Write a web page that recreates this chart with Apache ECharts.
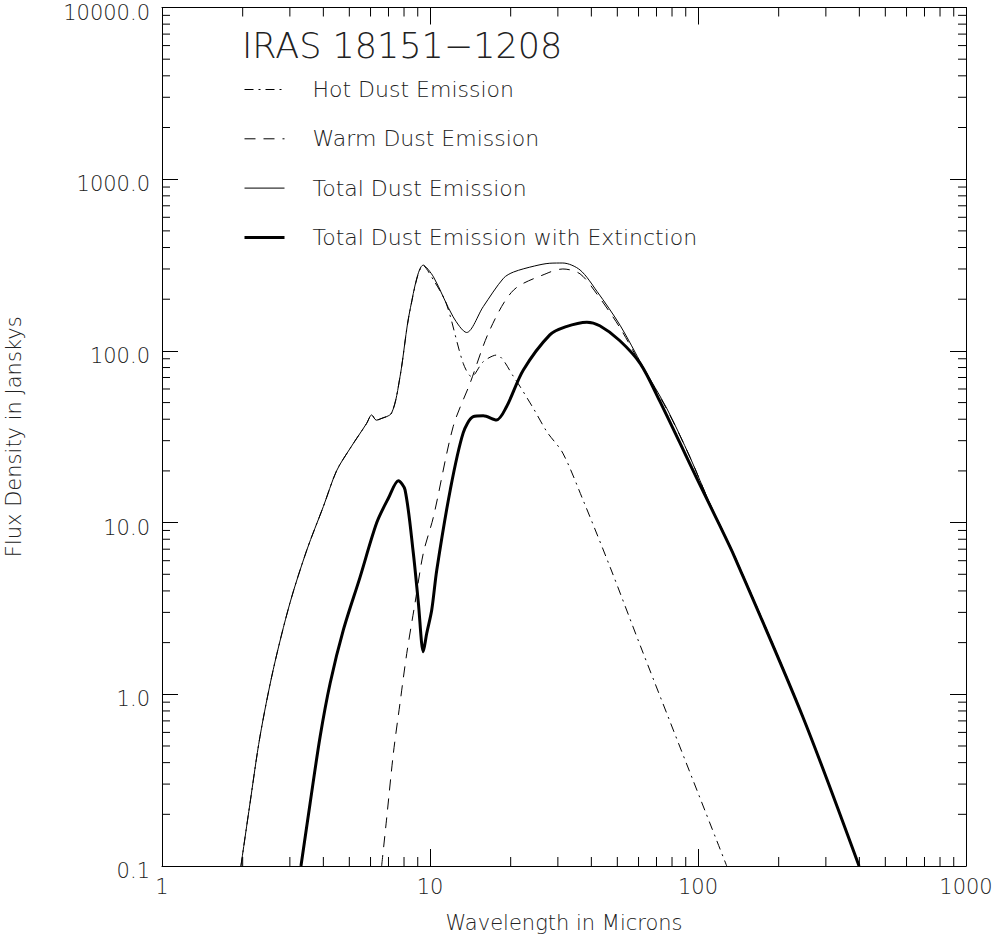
<!DOCTYPE html>
<html>
<head>
<meta charset="utf-8">
<script src="https://cdn.jsdelivr.net/npm/echarts@6/dist/echarts.min.js"></script>
<style>
  html, body { margin: 0; padding: 0; background: #fff; }
  #chart { width: 1003px; height: 944px; }
</style>
</head>
<body>
<div id="chart"></div>
<script>
// ---- Data (wavelength in microns, flux density in Jy) ----
const hotWave  = [1.97, 2.13, 2.32, 2.60, 3.0, 3.47, 4.0, 4.48, 5.03, 5.8, 6.06, 6.3, 6.51, 7.19, 7.73, 8.42, 9.44, 10.3, 11.5, 13.3, 14.3, 15.8, 17.7, 20.5, 24.3, 27.3, 31.3, 37.2, 47, 61.8, 128];
const hotFlux  = [0.1, 0.232, 0.566, 1.39, 3.39, 6.92, 12.4, 20.0, 27, 37.8, 42.4, 39.5, 40.1, 43.5, 70.8, 172, 314, 259, 189, 84.7, 70.8, 86.5, 94.6, 70.8, 46.3, 33.8, 25.4, 13.6, 5.5, 1.81, 0.1];

const warmWave = [6.6, 6.88, 7.30, 7.73, 8.19, 8.79, 9.44, 10.3, 12.2, 14.1, 16.7, 20.5, 27.3, 31.3, 36.3, 42, 51.2, 62.3, 76.6, 93.4, 111, 137, 246, 400];
const warmFlux = [0.1, 0.185, 0.453, 0.89, 1.73, 3.39, 6.63, 10.8, 36.2, 64.7, 132, 226, 283, 300, 281, 214, 136, 79, 45.5, 24, 12.8, 6.4, 0.75, 0.1];

const totalWave = [1.97, 2.13, 2.32, 2.60, 3.0, 3.47, 4.0, 4.48, 5.03, 5.8, 6.06, 6.3, 6.51, 7.19, 7.73, 8.42, 9.44, 10.3, 12.2, 13.7, 15.8, 18.8, 20.5, 24.5, 28, 31.3, 36.3, 42, 51.2, 62.3, 76.6, 93.4, 111, 137, 246, 400];
const totalFlux = [0.1, 0.232, 0.566, 1.39, 3.39, 6.92, 12.4, 20.0, 27, 37.8, 42.4, 39.5, 40.1, 43.5, 70.8, 173, 316, 270, 158, 128, 181, 265, 288, 312, 324, 325, 296, 222, 141, 81, 46, 24, 12.8, 6.4, 0.75, 0.1];

const extWave = [3.30, 3.57, 3.89, 4.24, 4.75, 5.48, 6.33, 7.0, 7.62, 8.07, 8.66, 9.05, 9.44, 9.72, 10.15, 10.6, 11.9, 13.3, 14.5, 15.8, 17.7, 19.3, 22.3, 28, 32, 38.5, 43, 51, 61, 72, 85.7, 100, 121, 137, 246, 399];
const extFlux = [0.1, 0.232, 0.566, 1.16, 2.37, 4.8, 10, 13.9, 17.5, 15.5, 6.7, 3.4, 1.77, 2.26, 3.1, 5.3, 15.5, 33.3, 41.4, 41.9, 39.6, 47.3, 77.4, 124, 138, 147, 140, 115, 84, 51, 29, 17.5, 9.5, 6.3, 0.74, 0.1];

// ---- Axis ticks ----
const xMajorLabels = [1, 10, 100, 1000];
const yMajorLabels = [0.1, 1, 10, 100, 1000, 10000];
const xMinorTicks = [2, 3, 4, 5, 6, 7, 8, 9, 20, 30, 40, 50, 60, 70, 80, 90, 200, 300, 400, 500, 600, 700, 800, 900];
const yMinorTicks = [0.2, 0.3, 0.4, 0.5, 0.6, 0.7, 0.8, 0.9, 2, 3, 4, 5, 6, 7, 8, 9, 20, 30, 40, 50, 60, 70, 80, 90,
                     200, 300, 400, 500, 600, 700, 800, 900, 2000, 3000, 4000, 5000, 6000, 7000, 8000, 9000];

const titleText = 'IRAS 18151\u22121208';
const seriesNames = ['Hot Dust Emission', 'Warm Dust Emission', 'Total Dust Emission', 'Total Dust Emission with Extinction'];

const FONT = '"DejaVu Sans", sans-serif';
const TXT = '#222';

function pairs(xs, ys) { return xs.map((x, i) => [x, ys[i]]); }

const X_MIN = xMajorLabels[0], X_MAX = xMajorLabels[xMajorLabels.length - 1];
const Y_MIN = yMajorLabels[0], Y_MAX = yMajorLabels[yMajorLabels.length - 1];

const chart = echarts.init(document.getElementById('chart'), null, { renderer: 'svg' });

function minorTickSeries(values, isX) {
  return {
    type: 'custom',
    silent: true,
    clip: false,
    xAxisIndex: 0, yAxisIndex: 0,
    data: values.map(v => isX ? [v, 1] : [1, v]),
    renderItem: function (params, api) {
      const len = isX ? 9 : 8;
      if (isX) {
        const x = api.coord([api.value(0), Y_MIN])[0];
        const yb = api.coord([X_MIN, Y_MIN])[1];
        const yt = api.coord([X_MIN, Y_MAX])[1];
        return { type: 'group', children: [
          { type: 'line', shape: { x1: x, y1: yb, x2: x, y2: yb - len }, style: { stroke: '#000', lineWidth: 1 } },
          { type: 'line', shape: { x1: x, y1: yt, x2: x, y2: yt + len }, style: { stroke: '#000', lineWidth: 1 } }
        ]};
      } else {
        const y = api.coord([X_MIN, api.value(1)])[1];
        const xl = api.coord([X_MIN, Y_MIN])[0];
        const xr = api.coord([X_MAX, Y_MIN])[0];
        return { type: 'group', children: [
          { type: 'line', shape: { x1: xl, y1: y, x2: xl + len, y2: y }, style: { stroke: '#000', lineWidth: 1 } },
          { type: 'line', shape: { x1: xr, y1: y, x2: xr - len, y2: y }, style: { stroke: '#000', lineWidth: 1 } }
        ]};
      }
    }
  };
}

const lineBase = { type: 'line', showSymbol: false, symbol: 'none', smooth: 0.3, xAxisIndex: 0, yAxisIndex: 0 };

const option = {
  animation: false,
  backgroundColor: '#fff',
  title: {
    text: titleText,
    left: 237, top: 23,
    textStyle: { fontFamily: FONT, fontSize: 35, fontWeight: 200, color: TXT }
  },
  legend: {
    data: seriesNames,
    orient: 'vertical',
    left: 238, top: 73.5,
    itemWidth: 40, itemHeight: 14, itemGap: 27.3,
    itemStyle: { opacity: 0 },
    lineStyle: { width: 'inherit', type: 'inherit', color: '#000' },
    textStyle: { fontFamily: FONT, fontSize: 22, fontWeight: 200, color: TXT, padding: [0, 0, 0, 23] },
    selectedMode: false
  },
  grid: { left: 162, right: 37, top: 7.5, bottom: 78, containLabel: false, outerBoundsMode: 'none' },
  xAxis: [{
    type: 'log', logBase: 10, min: X_MIN, max: X_MAX,
    name: 'Wavelength in Microns', nameLocation: 'middle', nameGap: 46,
    nameTextStyle: { fontFamily: FONT, fontSize: 21, fontWeight: 200, color: TXT },
    axisLine: { show: true, lineStyle: { color: '#000', width: 1 } },
    axisTick: { show: true, inside: true, length: 17, lineStyle: { color: '#000', width: 1 } },
    axisLabel: { fontFamily: FONT, fontSize: 21, fontWeight: 200, color: TXT, margin: 10, formatter: v => String(v) },
    splitLine: { show: false }, minorTick: { show: false }
  }, {
    type: 'log', logBase: 10, min: X_MIN, max: X_MAX, position: 'top',
    axisLine: { show: true, lineStyle: { color: '#000', width: 1 } },
    axisTick: { show: true, inside: true, length: 17, lineStyle: { color: '#000', width: 1 } },
    axisLabel: { show: false }, splitLine: { show: false }
  }],
  yAxis: [{
    type: 'log', logBase: 10, min: Y_MIN, max: Y_MAX,
    name: 'Flux Density in Janskys', nameLocation: 'middle', nameGap: 138, nameRotate: 90,
    nameTextStyle: { fontFamily: FONT, fontSize: 21, fontWeight: 200, color: TXT },
    axisLine: { show: true, lineStyle: { color: '#000', width: 1 } },
    axisTick: { show: true, inside: true, length: 16, lineStyle: { color: '#000', width: 1 } },
    axisLabel: { fontFamily: FONT, fontSize: 21, fontWeight: 200, color: TXT, margin: 12,
                 verticalAlign: 'top', lineHeight: 10, formatter: v => Number(v).toFixed(1) },
    splitLine: { show: false }, minorTick: { show: false }
  }, {
    type: 'log', logBase: 10, min: Y_MIN, max: Y_MAX, position: 'right',
    axisLine: { show: true, lineStyle: { color: '#000', width: 1 } },
    axisTick: { show: true, inside: true, length: 16, lineStyle: { color: '#000', width: 1 } },
    axisLabel: { show: false }, splitLine: { show: false }
  }],
  series: [
    Object.assign({}, lineBase, {
      name: seriesNames[0], data: pairs(hotWave, hotFlux),
      lineStyle: { color: '#000', width: 1, type: [9, 5, 2, 5] }, itemStyle: { color: '#000' }
    }),
    Object.assign({}, lineBase, {
      name: seriesNames[1], data: pairs(warmWave, warmFlux),
      lineStyle: { color: '#000', width: 1, type: [11, 8] }, itemStyle: { color: '#000' }
    }),
    Object.assign({}, lineBase, {
      name: seriesNames[2], data: pairs(totalWave, totalFlux),
      lineStyle: { color: '#000', width: 1, type: 'solid' }, itemStyle: { color: '#000' }
    }),
    Object.assign({}, lineBase, {
      name: seriesNames[3], data: pairs(extWave, extFlux),
      lineStyle: { color: '#000', width: 3, type: 'solid' }, itemStyle: { color: '#000' }
    }),
    minorTickSeries(xMinorTicks, true),
    minorTickSeries(yMinorTicks, false)
  ]
};

chart.setOption(option);
</script>
</body>
</html>
